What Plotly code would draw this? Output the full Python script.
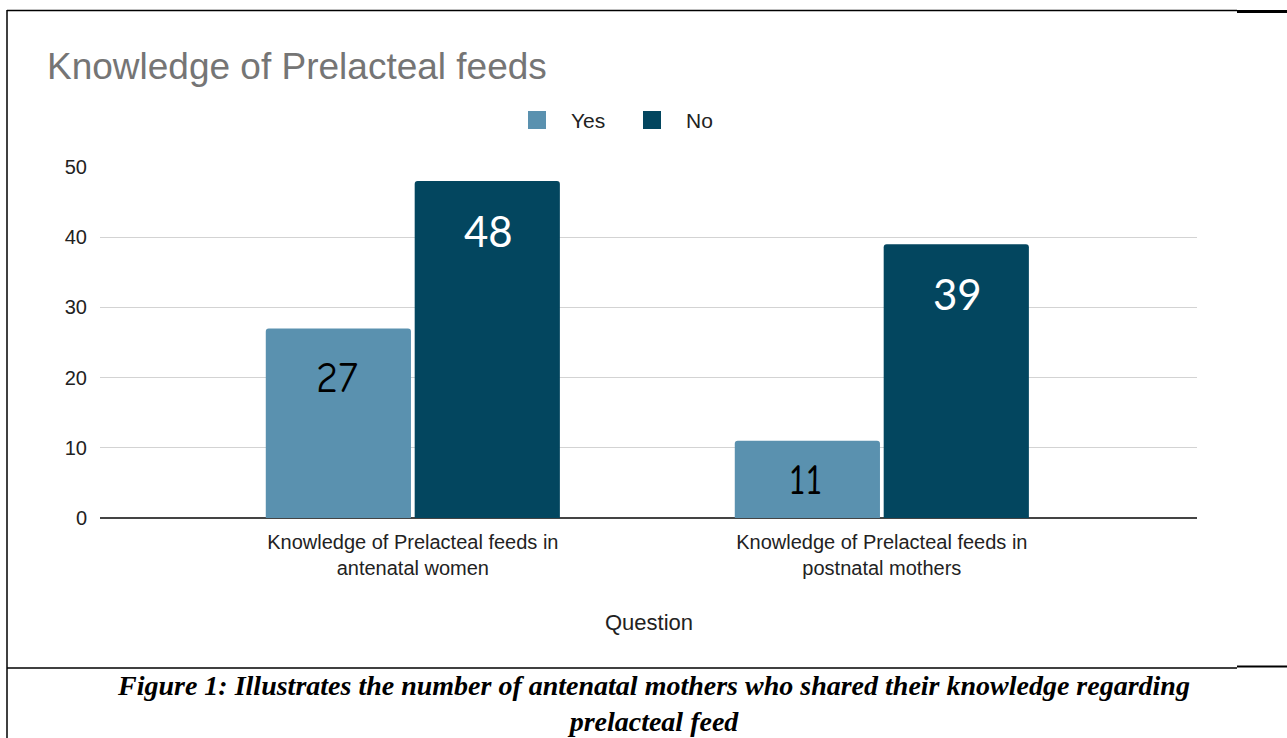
import plotly.graph_objects as go

categories = ["Knowledge of Prelacteal feeds in<br>antenatal women",
              "Knowledge of Prelacteal feeds in<br>postnatal mothers"]
yes_values = [27, 11]
no_values = [48, 39]
series_names = ["Yes", "No"]
y_ticks = [0, 10, 20, 30, 40, 50]

YES_COLOR = "#5A91AF"
NO_COLOR = "#03465F"

W, H = 1287, 738
L, R, T, B = 100, 90, 167, 220
PW, PH = W - L - R, H - T - B


def px(x):
    return (x - L) / PW


def py(y):
    return (H - B - y) / PH


fig = go.Figure()
fig.add_trace(go.Bar(name=series_names[0], x=categories, y=yes_values,
                     marker=dict(color=YES_COLOR, cornerradius=3, line=dict(width=0)),
                     showlegend=False))
fig.add_trace(go.Bar(name=series_names[1], x=categories, y=no_values,
                     marker=dict(color=NO_COLOR, cornerradius=3, line=dict(width=0)),
                     showlegend=False))

annotations = []
# value labels
for i, cat in enumerate(categories):
    v = yes_values[i]
    annotations.append(dict(x=cat, y=v, xref="x", yref="y", text=str(v), showarrow=False,
                            xshift=-76, yshift=-50 if v > 20 else -40, yanchor="middle",
                            font=dict(family="Comic Sans MS, Comic Neue, Lato, sans-serif",
                                      size=42, color="#000000")))
    v = no_values[i]
    annotations.append(dict(x=cat, y=v, xref="x", yref="y", text=str(v), showarrow=False,
                            xshift=76, yshift=-50, yanchor="middle",
                            font=dict(family="Lato, sans-serif", size=42, color="#FFFFFF")))

# legend (manual)
leg = [(528, series_names[0], YES_COLOR), (643, series_names[1], NO_COLOR)]
shapes = []
for x0, name, col in leg:
    shapes.append(dict(type="rect", xref="paper", yref="paper",
                       x0=px(x0), x1=px(x0 + 18), y0=py(129), y1=py(111),
                       fillcolor=col, line=dict(width=0)))
    annotations.append(dict(xref="paper", yref="paper", x=px(x0 + 41), y=py(120),
                            xanchor="left", yanchor="middle", text=name, showarrow=False,
                            font=dict(family="Liberation Sans, Arial", size=21, color="#222222")))

# axis title
annotations.append(dict(xref="paper", yref="paper", x=0.5, y=py(622), xanchor="center",
                        yanchor="middle", text="Question", showarrow=False,
                        font=dict(family="Liberation Sans, Arial", size=22, color="#222222")))

# caption (single two-line text)
cap_font = dict(family="Liberation Serif, Times New Roman, serif", size=28, color="#000000")
annotations.append(dict(xref="paper", yref="paper", x=px(653), y=py(703), xanchor="center",
                        yanchor="middle", showarrow=False, align="center",
                        text="<b><i>Figure 1: Illustrates the number of antenatal mothers who shared their knowledge regarding"
                             "<br>prelacteal feed</i></b>",
                        font=cap_font))

# frame lines
line = dict(color="#000000", width=1.5)
shapes += [
    dict(type="line", xref="paper", yref="paper", x0=px(7), x1=px(1237), y0=py(10.5), y1=py(10.5), line=line),
    dict(type="line", xref="paper", yref="paper", x0=px(1237), x1=px(1290), y0=py(11.5), y1=py(11.5),
         line=dict(color="#000000", width=3)),
    dict(type="line", xref="paper", yref="paper", x0=px(7), x1=px(7), y0=py(10), y1=py(740), line=line),
    dict(type="line", xref="paper", yref="paper", x0=px(7), x1=px(1237), y0=py(668), y1=py(668), line=line),
    dict(type="line", xref="paper", yref="paper", x0=px(1237), x1=px(1290), y0=py(666.5), y1=py(666.5),
         line=dict(color="#000000", width=2)),
]

fig.update_layout(
    width=W, height=H,
    margin=dict(l=L, r=R, t=T, b=B, autoexpand=False),
    paper_bgcolor="white", plot_bgcolor="white",
    barmode="group", bargap=0.365, bargroupgap=0.025,
    title=dict(text="Knowledge of Prelacteal feeds", xref="container", yref="container",
               x=47 / W, y=1 - 66 / H, xanchor="left", yanchor="middle",
               font=dict(family="Liberation Sans, Arial", size=37, color="#757575")),
    xaxis=dict(type="category", range=[-0.667, 1.672], showgrid=False, ticks="",
               tickfont=dict(family="Liberation Sans, Arial", size=20, color="#222222"),
               ticklabelstandoff=10, showline=False, zeroline=False),
    yaxis=dict(range=[0, 50], tickvals=y_ticks, showgrid=True, gridcolor="#D3D3D3", gridwidth=1,
               zeroline=True, zerolinecolor="#444444", zerolinewidth=1.5,
               tickfont=dict(family="Liberation Sans, Arial", size=20, color="#222222"),
               ticklabelstandoff=12, ticks=""),
    annotations=annotations,
    shapes=shapes,
)

fig.write_html("out.html")
